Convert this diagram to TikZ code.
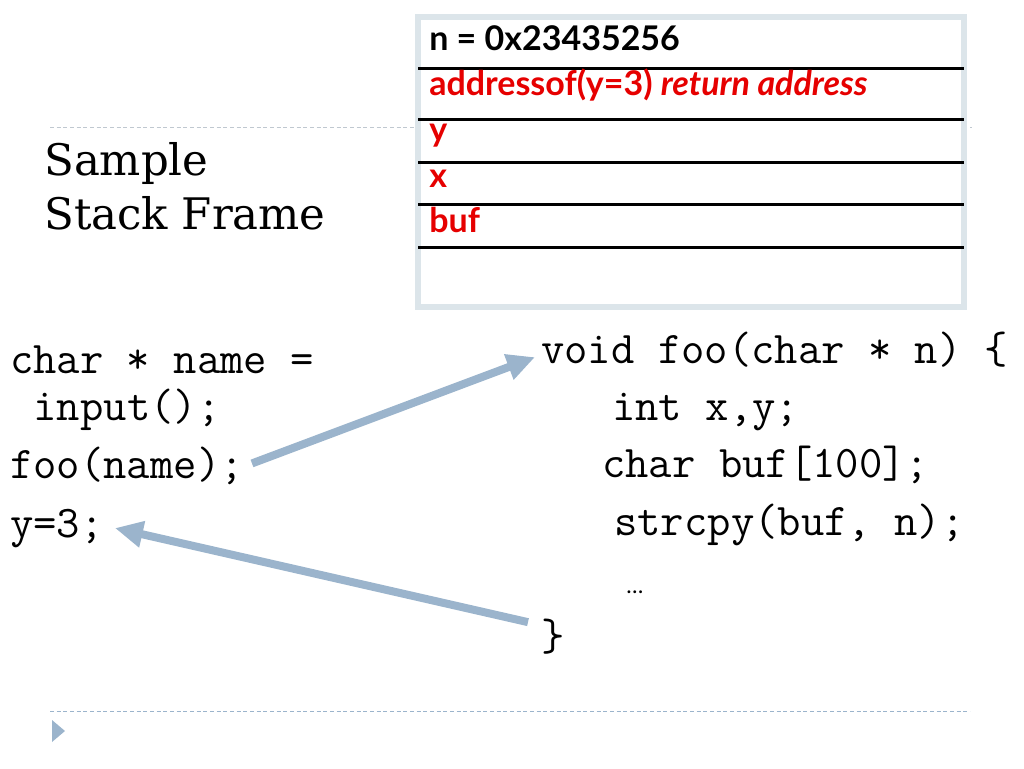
\documentclass[tikz,border=0pt]{standalone}
\usepackage{fontspec}
\setmainfont{DejaVu Serif}
\newfontfamily\gill{Lato}
\usetikzlibrary{arrows.meta,positioning}
\definecolor{slate}{RGB}{155,180,204}
\definecolor{frame}{RGB}{220,229,234}
\definecolor{hot}{RGB}{230,0,0}
\definecolor{rulegray}{RGB}{192,200,208}

\begin{document}
\begin{tikzpicture}[x=0.75pt,y=-0.75pt,
  code/.style={anchor=base west,inner sep=0pt,font=\fontsize{34}{40}\selectfont\ttfamily},
  slot/.style={anchor=base west,inner sep=0pt,font=\fontsize{25.5}{30}\selectfont\gill\bfseries},
  heading/.style={anchor=base west,inner sep=0pt,font=\fontsize{32.6}{40}\selectfont},
  flow/.style={draw=slate,line width=6pt,-{Triangle[length=21pt,width=19pt]}},
  slide rule/.style={line width=0.75pt,dash pattern=on 3pt off 2pt}]
  \useasboundingbox (0,0) rectangle (1024,768);
  % slide rules
  \draw[slide rule,rulegray] (50,127) -- (972,127);
  \draw[slide rule,slate] (50,711) -- (970,711);
  \fill[slate] (52,720) -- (65,731) -- (52,742) -- cycle;
  \node[heading] (t1) at (44,175) {Sample};
  \node[heading] (t2) at (44,229) {Stack Frame};

  % the stack frame
  \fill[frame] (415,14) rectangle (967,310);
  \fill[white] (421,20) rectangle (961,304);
  \foreach \y in {68,119,162,204,247}
    \draw[line width=2.25pt] (418,\y) -- (964,\y);
  \node[slot]          (n)   at (429,50)  {n = 0x23435256};
  \node[slot,text=hot] (ret) at (429,95)  {addressof(y=3) \itshape return address};
  \node[slot,text=hot] (y)   at (429,141) {y};
  \node[slot,text=hot] (x)   at (429,187) {x};
  \node[slot,text=hot] (buf) at (429,232) {buf};

  % caller
  \node[code] (decl0) at (10,373) {char * name =};
  \node[code] (decl1) at (10,420) {\ input();};
  \node[code] (call)  at (10,478) {foo(name);};
  \node[code] (after) at (10,537) {y=3;};

  % callee
  \node[code] (sig)  at (541,363) {void foo(char * n) \{};
  \node[code] (vars) at (612,420) {int x,y;};
  \node[code] (arr)  at (602,477) {char buf[100];};
  \node[code] (cpy)  at (614,535) {strcpy(buf, n);};
  \node[anchor=base west,inner sep=0pt,font=\fontsize{17}{20}\selectfont\gill] (dots) at (626,593) {…};
  \node[code] (close) at (541,650) {\}};

  \path ([shift={(8,-2)}]call.east) edge[flow] ([shift={(-6,8)}]sig.west)
        ([shift={(-13,-14)}]close.west) edge[flow] ([shift={(11,0)}]after.east);
\end{tikzpicture}
\end{document}
